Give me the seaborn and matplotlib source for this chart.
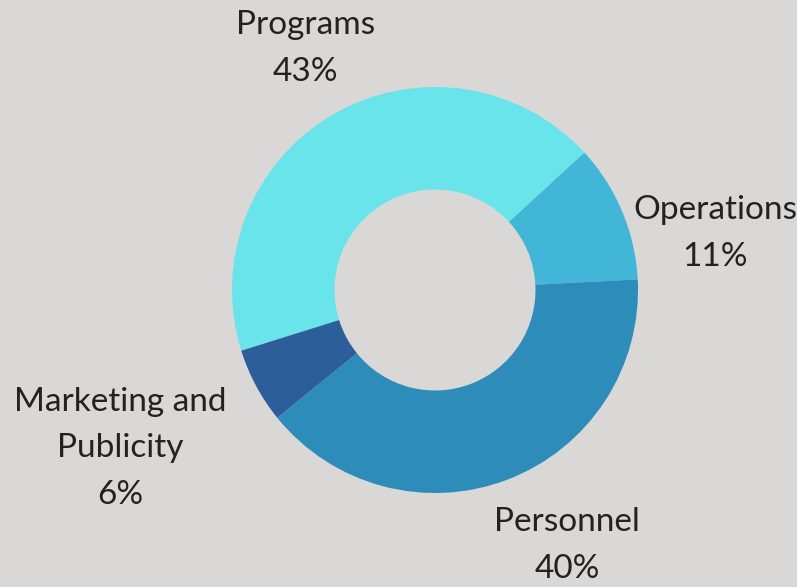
import matplotlib
matplotlib.use("Agg")
import matplotlib.pyplot as plt
import numpy as np
import seaborn as sns

# Budget shares
categories = ["Programs", "Operations", "Personnel", "Marketing and\nPublicity"]
shares = [43, 11, 40, 6]
colors = ["#68e4ea", "#41b6d6", "#2d8cba", "#2c5e99"]

sns.set_theme(style="white")
plt.rcParams["font.family"] = ["Lato", "DejaVu Sans"]

bg = "#d9d8d7"
W, H = 797, 587
cx, cy, scale = 435, 290, 203  # pixel centre and pixels per unit radius

fig = plt.figure(figsize=(W / 100, H / 100), dpi=100, facecolor=bg)
ax = fig.add_axes([0, 0, 1, 1])
ax.set_facecolor(bg)

wedges, _ = ax.pie(
    shares,
    colors=colors,
    startangle=197.4,
    counterclock=False,
    radius=1,
    wedgeprops=dict(width=0.505, edgecolor="none"),
)
ax.set_xlim(-cx / scale, (W - cx) / scale)
ax.set_ylim(-(H - cy) / scale, cy / scale)
ax.set_aspect("auto")
ax.axis("off")

# label offsets (data units) for each category
label_pos = {
    "Programs": (-0.64, 1.19),
    "Operations": (1.38, 0.28),
    "Personnel": (0.65, -1.26),
    "Marketing and\nPublicity": (-1.55, -0.78),
}
for name, val in zip(categories, shares):
    x, y = label_pos[name]
    ax.text(x, y, f"{name}\n{val}%", ha="center", va="center",
            fontsize=24, color="#222222", linespacing=1.7)

fig.savefig("out.png", dpi=100, facecolor=bg)
